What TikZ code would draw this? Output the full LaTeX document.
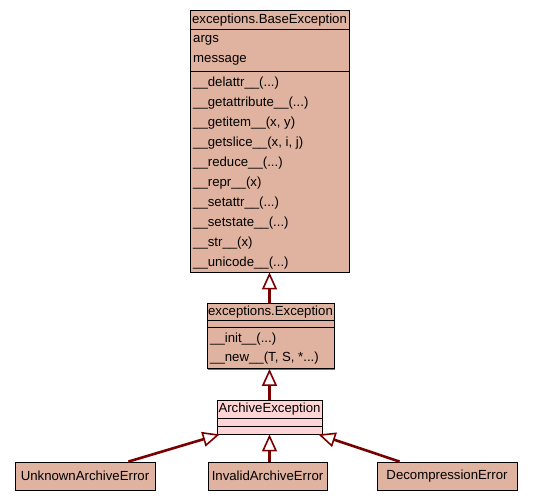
\documentclass[tikz,border=0pt]{standalone}
\usepackage{fontspec}
\setmainfont{Liberation Sans}
\usetikzlibrary{arrows.meta,shadows}
\definecolor{clsfill}{HTML}{E0B2A0}
\definecolor{focusfill}{HTML}{FFD4D4}
\definecolor{edgered}{HTML}{7A0000}
\tikzset{
  cls/.style={draw=black, line width=0.8pt, fill=clsfill, inner sep=0pt,
    general shadow={fill=black!55, shadow xshift=1.4pt, shadow yshift=-1.4pt}},
  focus/.style={cls, fill=focusfill},
  member/.style={anchor=west, inner sep=0pt, font=\fontsize{13.2}{15}\selectfont},
  title/.style={inner sep=0pt, font=\fontsize{13.2}{15}\selectfont},
  divider/.style={line width=0.8pt},
  inherit/.style={draw=edgered, line width=2.6pt,
    -{Triangle[open, length=17pt, width=15pt, line width=1.6pt]}}
}
\begin{document}
\begin{tikzpicture}[x=1pt, y=-1pt]
\useasboundingbox (0,0) rectangle (533,501);

% exceptions.BaseException
\node[cls, minimum width=159pt, minimum height=262pt] (base) at (269.5,141) {};
\draw[divider] (190,29) -- (349,29);
\draw[divider] (190,71) -- (349,71);
\node[title] (baseT) at (269.5,20) {exceptions.BaseException};
\node[member] (bA1) at (193,40) {args};
\node[member] (bA2) at (193,60) {message};
\node[member] (bM1) at (193,83) {\_\_delattr\_\_(...)};
\node[member] (bM2) at (193,103) {\_\_getattribute\_\_(...)};
\node[member] (bM3) at (193,123) {\_\_getitem\_\_(x, y)};
\node[member] (bM4) at (193,143) {\_\_getslice\_\_(x, i, j)};
\node[member] (bM5) at (193,163) {\_\_reduce\_\_(...)};
\node[member] (bM6) at (193,183) {\_\_repr\_\_(x)};
\node[member] (bM7) at (193,203) {\_\_setattr\_\_(...)};
\node[member] (bM8) at (193,223) {\_\_setstate\_\_(...)};
\node[member] (bM9) at (193,243) {\_\_str\_\_(x)};
\node[member] (bM10) at (193,263) {\_\_unicode\_\_(...)};

% exceptions.Exception
\node[cls, minimum width=127pt, minimum height=65pt] (exc) at (270.5,336) {};
\draw[divider] (207,320) -- (334,320);
\draw[divider] (207,327) -- (334,327);
\node[title] (excT) at (270.5,312.5) {exceptions.Exception};
\node[member] (eM1) at (210,339) {\_\_init\_\_(...)};
\node[member] (eM2) at (210,358) {\_\_new\_\_(T, S, *...)};

% ArchiveException
\node[focus, minimum width=105pt, minimum height=34pt] (arch) at (269.5,417) {};
\draw[divider] (217,418) -- (322,418);
\draw[divider] (217,426) -- (322,426);
\node[title] (archT) at (269.5,409.5) {ArchiveException};

% subclasses
\node[cls, minimum width=140pt, minimum height=28pt, title] (unk) at (85,476) {UnknownArchiveError};
\node[cls, minimum width=119pt, minimum height=28pt, title] (inv) at (267.5,476) {InvalidArchiveError};
\node[cls, minimum width=140pt, minimum height=28pt, title] (dec) at (447,476) {DecompressionError};

% inheritance edges
\draw[inherit] (exc.north -| base.south) -- (base.south);
\draw[inherit] (arch.north) -- (arch.north |- exc.south);
\draw[inherit] (inv.north -| arch.south) -- (arch.south);
\draw[inherit] ([xshift=-27pt]unk.north east) -- ([xshift=3pt]arch.south west);
\draw[inherit] ([xshift=23pt]dec.north west) -- ([xshift=-4pt]arch.south east);
\end{tikzpicture}
\end{document}
